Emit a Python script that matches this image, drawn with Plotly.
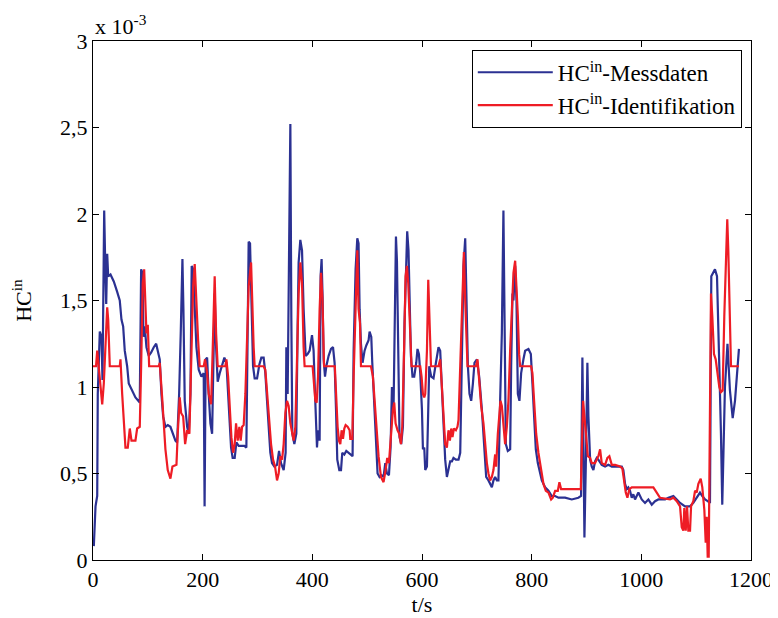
import plotly.graph_objects as go

# HC^in measured data (t in s, values in 1e-3)
t_mess = [1.5, 4.6, 7.7, 8.7, 12.4, 15.5, 17.3, 20.4, 22.2, 24.1, 25.9, 27.7, 31.9, 37.9, 44.1,
          48.8, 51.9, 55.0, 57.9, 62.3, 65.2, 68.3, 73.3, 77.4, 85.3, 87.8, 90.2, 92.0, 94.4,
          97.5, 101.7, 106.1, 110.8, 115.2, 118.8, 121.7, 124.8, 127.9, 132.1, 136.3, 141.2,
          146.1, 150.3, 153.4, 157.1, 160.0, 163.1, 164.9, 167.3, 171.7, 174.6, 177.7, 180.0,
          182.6, 184.9, 188.6, 192.8, 197.7, 201.9, 203.5, 205.5, 208.1, 211.0, 214.1, 217.2,
          220.1, 221.9, 224.5, 227.4, 231.1, 235.4, 239.6, 243.3, 247.5, 251.8, 254.7, 258.4,
          261.5, 265.7, 270.6, 276.1, 279.7, 281.5, 283.9, 286.4, 288.3, 291.9, 294.8, 299.2,
          303.4, 307.0, 311.2, 314.3, 317.4, 320.3, 323.4, 326.5, 330.7, 335.6, 339.3, 342.9,
          347.7, 351.3, 352.6, 355.0, 356.8, 359.9, 361.7, 363.5, 367.2, 370.8, 373.2, 375.0,
          378.1, 381.2, 384.1, 387.8, 391.4, 395.1, 399.4, 402.3, 404.9, 406.7, 408.5, 410.4,
          413.3, 415.1, 416.9, 418.7, 420.6, 423.1, 425.5, 429.7, 434.0, 437.7, 440.6, 443.2,
          445.5, 449.2, 452.3, 454.6, 458.3, 461.9, 465.6, 469.2, 473.4, 475.3, 478.9, 482.0,
          484.3, 486.2, 488.7, 491.6, 495.3, 498.4, 502.6, 504.4, 507.5, 509.3, 512.9, 516.6,
          519.0, 522.6, 526.3, 529.9, 533.0, 536.1, 539.7, 542.7, 545.2, 548.1, 550.7, 552.5,
          554.3, 556.7, 559.0, 562.1, 565.2, 568.1, 570.7, 573.0, 575.4, 577.3, 579.8, 582.7,
          585.8, 589.5, 591.8, 594.4, 596.8, 599.9, 601.7, 604.1, 605.9, 609.0, 613.2, 616.8,
          621.0, 625.4, 630.1, 633.2, 636.3, 639.2, 642.3, 645.4, 648.3, 651.4, 654.5, 657.4,
          661.8, 666.6, 669.7, 672.7, 675.7, 678.8, 681.1, 683.7, 686.6, 689.7, 692.8, 695.7,
          700.1, 704.3, 709.2, 713.4, 717.0, 721.2, 724.3, 727.4, 730.3, 733.4, 736.5, 739.4,
          742.5, 745.6, 748.5, 750.3, 752.9, 756.5, 760.8, 762.6, 765.0, 766.8, 769.9, 772.3,
          774.8, 777.7, 780.8, 785.0, 788.1, 794.1, 798.5, 801.4, 804.5, 807.6, 811.2, 815.4,
          818.5, 824.5, 830.6, 836.7, 842.8, 848.8, 860.9, 873.2, 885.2, 890.1, 892.5, 894.3,
          896.2, 898.7, 901.6, 903.5, 906.6, 909.6, 912.6, 915.6, 918.7, 921.6, 927.8, 933.9,
          939.9, 946.1, 952.1, 958.1, 964.3, 967.2, 970.3, 973.4, 976.3, 979.4, 982.5, 985.4,
          988.5, 994.6, 1000.7, 1006.7, 1012.8, 1019.0, 1025.0, 1031.0, 1043.3, 1049.3, 1058.4,
          1064.6, 1070.6, 1079.7, 1088.8, 1094.8, 1101.0, 1107.0, 1111.2, 1116.2, 1121.0,
          1125.2, 1127.6, 1130.2, 1134.3, 1138.0, 1140.3, 1142.2, 1145.2, 1147.6, 1152.5,
          1157.1, 1161.6, 1166.6, 1170.8, 1175.6, 1178.0]
hc_mess = [0.08, 0.31, 0.37, 0.96, 1.32, 1.29, 1.04, 2.02, 1.73, 1.48, 1.77, 1.64, 1.65, 1.61, 1.55,
           1.50, 1.39, 1.35, 1.21, 1.12, 1.02, 1.00, 0.96, 0.94, 0.91, 1.68, 1.66, 1.29, 1.35,
           1.23, 1.18, 1.20, 1.23, 1.25, 1.20, 1.16, 0.96, 0.83, 0.77, 0.78, 0.77,
           0.73, 0.69, 0.68, 0.96, 1.31, 1.74, 1.45, 0.92, 0.77, 0.73, 0.96, 1.70,
           1.68, 1.50, 1.23, 1.10, 1.06, 1.08, 0.31, 1.16, 1.17, 0.96, 0.79, 0.73,
           1.39, 1.54, 1.23, 1.03, 1.08, 1.12, 1.17, 1.14, 0.92, 0.65, 0.59, 0.59,
           0.68, 0.66, 0.66, 0.66, 0.65, 1.16, 1.84, 1.83, 1.54, 1.12, 1.05, 1.05,
           1.13, 1.17, 1.17, 1.08, 0.92, 0.77, 0.62, 0.56, 0.54, 0.55, 0.63, 0.56,
           0.52, 0.62, 1.23, 0.96, 1.73, 2.52, 1.40, 0.73, 0.67, 0.73, 1.35, 1.72,
           1.85, 1.79, 1.45, 1.18, 1.19, 1.21, 1.30, 1.21, 0.96, 0.75, 0.65, 0.75,
           0.69, 1.64, 1.74, 1.52, 1.16, 1.06, 1.12, 1.18, 1.22, 1.23, 1.14, 0.87,
           0.58, 0.52, 0.52, 0.62, 0.61, 0.63, 0.62, 0.61, 0.60, 1.21, 1.68, 1.86,
           1.83, 1.45, 1.25, 1.14, 1.21, 1.24, 1.27, 1.32, 1.29, 1.14, 0.87, 0.67,
           0.50, 0.48, 0.49, 0.48, 0.56, 0.50, 0.49, 0.65, 1.00, 0.87, 1.45, 1.87,
           1.73, 1.06, 0.71, 0.67, 0.77, 1.37, 1.64, 1.90, 1.79, 1.52, 1.18, 1.06,
           1.06, 1.14, 1.22, 1.19, 1.08, 0.87, 0.64, 0.65, 0.52, 0.54, 1.12, 1.06,
           1.05, 1.14, 1.23, 1.21, 1.02, 0.81, 0.58, 0.48, 0.52, 0.57, 0.57, 0.59,
           0.58, 0.58, 0.62, 1.31, 1.70, 1.86, 1.50, 1.12, 0.96, 0.92, 1.02, 1.14,
           1.16, 1.06, 0.87, 0.64, 0.48, 0.46, 0.44, 0.42, 0.46, 0.48, 0.46, 0.46,
           0.92, 1.31, 2.02, 1.50, 0.67, 0.63, 0.64, 1.12, 1.54, 1.50, 1.70, 1.50,
           0.96, 0.92, 1.08, 1.16, 1.21, 1.22, 1.19, 1.02, 0.83, 0.64, 0.56, 0.50,
           0.46, 0.42, 0.40, 0.37, 0.37, 0.36, 0.36, 0.35, 0.36, 0.37, 1.17, 0.73,
           0.13, 0.54, 1.14, 0.83, 0.58, 0.54, 0.52, 0.57, 0.59, 0.58, 0.55, 0.54,
           0.55, 0.54, 0.54, 0.54, 0.54, 0.52, 0.44, 0.41, 0.42, 0.40, 0.36, 0.38,
           0.35, 0.39, 0.35, 0.33, 0.35, 0.32, 0.34, 0.35, 0.35, 0.36, 0.37,
           0.35, 0.33, 0.31, 0.31, 0.33, 0.36, 0.39, 0.37, 0.35, 0.34,
           0.33, 1.64, 1.66, 1.68, 1.64, 1.41, 1.12, 0.73, 0.32, 1.00,
           1.25, 0.98, 0.82, 0.92, 1.12, 1.22]

# HC^in identified model output (t in s, values in 1e-3)
t_ident = [0.0, 5.5, 7.7, 12.4, 16.8, 19.7, 22.8, 25.9, 27.7, 30.6, 48.8, 50.1, 53.2, 56.1, 59.2,
           63.4, 67.1, 70.2, 77.4, 80.5, 85.3, 87.8, 90.7, 93.3, 95.1, 97.5, 99.9, 102.4, 119.9,
           121.7, 126.1, 129.0, 132.1, 136.3, 141.2, 144.9, 152.2, 154.5, 158.2, 160.7, 164.4,
           168.0, 171.7, 175.8, 179.5, 182.6, 185.5, 188.6, 191.7, 194.6, 201.9, 204.4, 208.1,
           211.0, 215.4, 217.8, 220.1, 221.9, 224.5, 227.4, 241.4, 243.3, 246.4, 249.3, 252.4,
           255.5, 258.4, 260.9, 263.9, 266.9, 269.3, 271.9, 274.8, 277.9, 280.9, 283.9, 288.3,
           290.1, 293.0, 294.8, 311.2, 314.3, 317.4, 320.3, 324.7, 328.4, 332.0, 335.6, 338.6,
           341.7, 344.8, 347.7, 350.8, 353.9, 356.8, 359.9, 363.0, 365.9, 369.0, 372.1, 375.0,
           378.1, 381.2, 384.1, 385.9, 400.5, 402.5, 405.5, 407.9, 410.4, 413.3, 415.9, 418.3,
           420.1, 421.4, 441.0, 443.2, 446.1, 448.6, 451.0, 453.4, 455.9, 458.3, 460.7, 464.3,
           468.0, 469.2, 472.9, 475.3, 478.9, 482.0, 484.3, 486.9, 488.7, 506.9, 510.5, 514.2,
           517.8, 520.8, 525.1, 529.9, 533.6, 536.6, 539.7, 543.4, 547.0, 549.4, 551.8, 555.4,
           558.5, 561.6, 564.0, 567.6, 570.0, 572.5, 574.9, 577.3, 579.8, 580.9, 596.8, 599.2,
           601.7, 604.1, 605.9, 609.0, 611.4, 613.8, 616.4, 630.1, 633.2, 636.3, 639.2, 642.3,
           645.4, 648.3, 650.9, 653.3, 655.6, 658.2, 661.8, 664.7, 666.6, 669.7, 672.7, 676.4,
           678.8, 681.1, 683.0, 698.3, 701.2, 704.3, 707.9, 712.1, 715.2, 718.3, 721.2, 724.3,
           727.4, 730.3, 733.4, 735.2, 738.3, 740.7, 743.1, 745.6, 748.5, 751.6, 754.7, 757.6,
           760.7, 763.8, 766.8, 769.9, 772.3, 774.8, 777.1, 779.0, 799.0, 801.4, 805.0, 808.2,
           812.3, 817.3, 821.5, 825.8, 830.6, 835.5, 838.6, 842.8, 847.7, 850.6, 853.7, 889.6,
           891.4, 893.8, 896.2, 899.3, 902.4, 906.6, 909.6, 915.6, 921.6, 924.8, 927.8, 933.9,
           938.1, 941.7, 946.1, 952.1, 961.2, 965.4, 969.1, 971.6, 974.6, 978.2, 982.5, 1021.9,
           1028.1, 1034.1, 1052.4, 1058.4, 1064.6, 1070.6, 1073.7, 1076.6, 1078.4, 1081.0,
           1083.4, 1085.7, 1088.8, 1090.7, 1094.8, 1098.0, 1101.0, 1104.0, 1108.3, 1111.2,
           1114.9, 1117.4, 1119.3, 1121.0, 1122.9, 1125.2, 1127.0, 1129.4, 1132.5, 1135.6,
           1138.5, 1142.2, 1145.2, 1148.3, 1151.3, 1154.3, 1156.7, 1158.6, 1161.1, 1163.5,
           1178.1]
hc_ident = [1.12, 1.12, 1.21, 1.04, 0.90, 1.02, 1.23, 1.46, 1.39, 1.12, 1.12, 1.16, 0.96, 0.77, 0.65,
            0.65, 0.76, 0.69, 0.69, 0.76, 0.77, 1.12, 1.60, 1.68, 1.45, 1.31, 1.36, 1.12, 1.12,
            1.14, 0.94, 0.79, 0.64, 0.52, 0.47, 0.54, 0.55, 0.73, 0.94, 0.85, 0.83,
            0.67, 0.75, 0.73, 1.16, 1.58, 1.71, 1.45, 1.27, 1.12, 1.12, 1.16, 1.08,
            0.96, 0.90, 1.16, 1.54, 1.64, 1.31, 1.12, 1.12, 1.16, 1.06, 0.89, 0.71,
            0.62, 0.67, 0.79, 0.69, 0.77, 0.69, 0.77, 0.78, 0.96, 1.35, 1.58, 1.72,
            1.50, 1.23, 1.12, 1.12, 1.10, 0.96, 0.85, 0.67, 0.58, 0.54, 0.46, 0.50,
            0.60, 0.58, 0.67, 0.85, 0.92, 0.89, 0.79, 0.73, 0.69, 0.77, 1.16, 1.54,
            1.72, 1.60, 1.23, 1.12, 1.12, 1.05, 0.92, 0.91, 1.06, 1.45, 1.66, 1.52,
            1.25, 1.12, 1.12, 0.94, 0.77, 0.69, 0.67, 0.75, 0.70, 0.76, 0.78, 0.77,
            0.75, 0.70, 0.70, 1.06, 1.45, 1.79, 1.45, 1.37, 1.12, 1.12, 1.06, 0.87,
            0.75, 0.60, 0.48, 0.45, 0.52, 0.59, 0.56, 0.75, 0.87, 0.91, 0.79, 0.75,
            0.73, 0.67, 0.77, 1.25, 1.64, 1.70, 1.60, 1.41, 1.18, 1.12, 1.12, 1.06,
            0.96, 0.94, 0.96, 1.21, 1.62, 1.31, 1.12, 1.12, 1.16, 1.00, 0.83, 0.67,
            0.65, 0.75, 0.69, 0.76, 0.71, 0.76, 0.75, 0.77, 0.81, 1.12, 1.50, 1.78,
            1.50, 1.27, 1.12, 1.12, 1.16, 1.04, 0.89, 0.79, 0.65, 0.56, 0.50, 0.46,
            0.48, 0.52, 0.61, 0.54, 0.73, 0.81, 0.92, 0.89, 0.77, 0.67, 0.77, 0.92,
            1.21, 1.50, 1.66, 1.73, 1.58, 1.41, 1.19, 1.12, 1.12, 1.08, 0.89, 0.73,
            0.62, 0.52, 0.44, 0.40, 0.39, 0.35, 0.36, 0.40, 0.40, 0.45, 0.41, 0.41,
            0.73, 0.92, 0.83, 0.69, 0.60, 0.59, 0.56, 0.56, 0.60, 0.64, 0.56, 0.55,
            0.59, 0.60, 0.55, 0.55, 0.54, 0.53, 0.46, 0.39, 0.36, 0.41, 0.42, 0.42,
            0.39, 0.36, 0.35, 0.36, 0.34, 0.31, 0.19, 0.17, 0.30, 0.17,
            0.31, 0.17, 0.17, 0.31, 0.34, 0.40, 0.39, 0.44, 0.47, 0.42,
            0.29, 0.10, 0.25, 0.02, 0.02, 0.73, 1.54, 1.41, 1.19, 1.16,
            1.10, 1.00, 0.97, 0.98, 1.41, 1.79, 1.97, 1.79, 1.41, 1.12,
            1.12]

y_tick_vals = [0, 0.5, 1, 1.5, 2, 2.5, 3]
y_tick_text = ["0", "0,5", "1", "1,5", "2", "2,5", "3"]
x_tick_vals = [0, 200, 400, 600, 800, 1000, 1200]

FONT = "Liberation Serif"
FS = 22

fig = go.Figure()
fig.add_trace(go.Scatter(x=t_mess, y=hc_mess, mode="lines",
                         name="HC<sup>in</sup>-Messdaten",
                         line=dict(color="#2B3192", width=2.2)))
fig.add_trace(go.Scatter(x=t_ident, y=hc_ident, mode="lines",
                         name="HC<sup>in</sup>-Identifikation",
                         line=dict(color="#EE1C25", width=2.2)))

axis_common = dict(showline=True, linecolor="black", linewidth=1, mirror="allticks",
                   ticks="inside", ticklen=6, tickcolor="black", showgrid=False,
                   zeroline=False, tickfont=dict(family=FONT, size=FS, color="black"))

fig.update_xaxes(range=[0, 1200], tickvals=x_tick_vals,
                 title=dict(text="t/s", font=dict(family=FONT, size=FS, color="black"),
                            standoff=0),
                 **axis_common)
fig.update_yaxes(range=[0, 3], tickvals=y_tick_vals, ticktext=y_tick_text,
                 title=dict(text="HC<sup>in</sup>", font=dict(family=FONT, size=FS, color="black"),
                            standoff=22),
                 **axis_common)

fig.add_annotation(text="x 10<sup>-3</sup>", xref="paper", yref="paper", x=0, y=1,
                   xanchor="left", yanchor="bottom", showarrow=False, yshift=0,
                   font=dict(family=FONT, size=FS, color="black"))

# page body adds an 8px offset, so the figure is 770x610 and margins are shifted
fig.update_layout(
    width=770, height=610,
    paper_bgcolor="white", plot_bgcolor="white",
    margin=dict(l=85, r=27, t=33, b=58, autoexpand=False),
    font=dict(family=FONT, size=FS, color="black"),
    legend=dict(x=0.986, y=0.983, xanchor="right", yanchor="top",
                bgcolor="white", bordercolor="black", borderwidth=1,
                font=dict(family=FONT, size=23, color="black"),
                tracegroupgap=0, itemwidth=75),
    showlegend=True,
)

fig.write_html("out.html")
